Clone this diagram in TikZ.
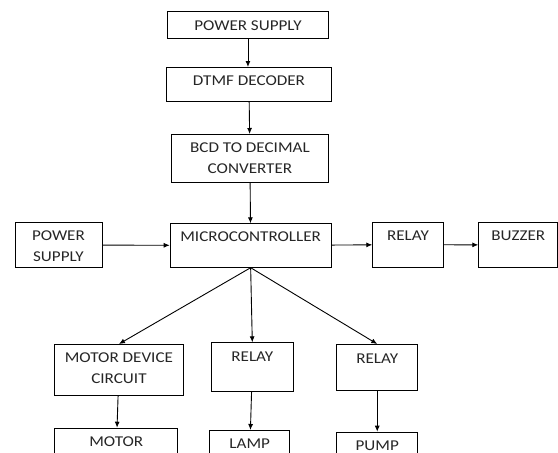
\documentclass[tikz,border=0pt]{standalone}
\usepackage{fontspec}
\setmainfont{Carlito}[FakeStretch=1.14]
\usepackage{tikz}
\usetikzlibrary{positioning}
\usetikzlibrary{arrows.meta}
\tikzset{%
  every block/.style={
    rectangle,
    draw,
    line width=0.9pt,
    anchor=north west,
    inner sep=0pt,
  },
  block text/.style={
    inner sep=0pt,
    align=center,
    text=black!85,
    font=\fontsize{15}{20.5}\selectfont,
  },
}

\begin{document}
\begin{tikzpicture}[x=1pt,y=-1pt]
      \tikzstyle{line} = [draw, -{Latex[length=6pt,width=5pt]}, line width=0.9pt]
      \clip (0,0) rectangle (558,453);

      % Power supply (top)
      \node[every block,minimum width=161pt,minimum height=27pt] (Supply) at (167,11) {};
      \node[block text,below=9.5pt of Supply.north] (SupplyText) {POWER SUPPLY};

      % DTMF decoder
      \node[every block,minimum width=165pt,minimum height=34pt] (Decoder) at (166,67) {};
      \node[block text,below=9pt of Decoder.north] (DecoderText) {DTMF DECODER};

      % BCD to decimal converter
      \node[every block,minimum width=157pt,minimum height=48pt] (Converter) at (171,134) {};
      \node[block text,below=9pt of Converter.north] (ConverterText) {BCD TO DECIMAL\\CONVERTER};

      % Power supply (left)
      \node[every block,minimum width=87pt,minimum height=44.5pt] (SideSupply) at (14.5,222.3) {};
      \node[block text,below=8.5pt of SideSupply.north] (SideSupplyText) {POWER\\SUPPLY};

      % Microcontroller
      \node[every block,minimum width=161pt,minimum height=43.5pt] (Controller) at (169.7,223.3) {};
      \node[block text,below=8.5pt of Controller.north] (ControllerText) {MICROCONTROLLER};

      % Relay -> buzzer
      \node[every block,minimum width=70.5pt,minimum height=45pt] (BuzzerRelay) at (372.3,221.7) {};
      \node[block text,below=8.5pt of BuzzerRelay.north] (BuzzerRelayText) {RELAY};
      \node[every block,minimum width=79pt,minimum height=44.5pt] (Buzzer) at (478.3,222.3) {};
      \node[block text,below=8.5pt of Buzzer.north] (BuzzerText) {BUZZER};

      % Motor device circuit -> motor
      \node[every block,minimum width=128.4pt,minimum height=51pt] (Driver) at (54.3,344) {};
      \node[block text,below=8.7pt of Driver.north] (DriverText) {MOTOR DEVICE\\CIRCUIT};
      \node[every block,minimum width=123pt,minimum height=45pt] (Motor) at (54.3,427.7) {};
      \node[block text,below=9pt of Motor.north] (MotorText) {MOTOR};

      % Relay -> lamp
      \node[every block,minimum width=81.7pt,minimum height=49pt] (LampRelay) at (211,342.3) {};
      \node[block text,below=9.3pt of LampRelay.north] (LampRelayText) {RELAY};
      \node[every block,minimum width=80pt,minimum height=45pt] (Lamp) at (209.3,430) {};
      \node[block text,below=8.7pt of Lamp.north] (LampText) {LAMP};

      % Relay -> pump
      \node[every block,minimum width=81pt,minimum height=46.3pt] (PumpRelay) at (336.3,344) {};
      \node[block text,below=9.3pt of PumpRelay.north] (PumpRelayText) {RELAY};
      \node[every block,minimum width=81pt,minimum height=45pt] (Pump) at (336.3,431.7) {};
      \node[block text,below=8.6pt of Pump.north] (PumpText) {PUMP};

      % top chain
      \path[line] (Supply.south) -- (Supply.south |- Decoder.north);
      \path[line] (Decoder) -- (Converter);
      \path[line] (Converter) -- (Controller);

      % middle row
      \path[line] (SideSupply) -- (Controller);
      \path[line] (Controller) -- (BuzzerRelay);
      \path[line] (BuzzerRelay) -- (Buzzer);

      % \Controller -> loads
      \path[line] (Controller.south) -- (Driver.north);
      \path[line] (Controller.south) -- (LampRelay.north);
      \path[line] (Controller.south) -- (PumpRelay.north);
      \path[line] (Driver) -- (Motor);
      \path[line] (LampRelay) -- (Lamp);
      \path[line] (PumpRelay) -- (Pump);
\end{tikzpicture}
\end{document}
